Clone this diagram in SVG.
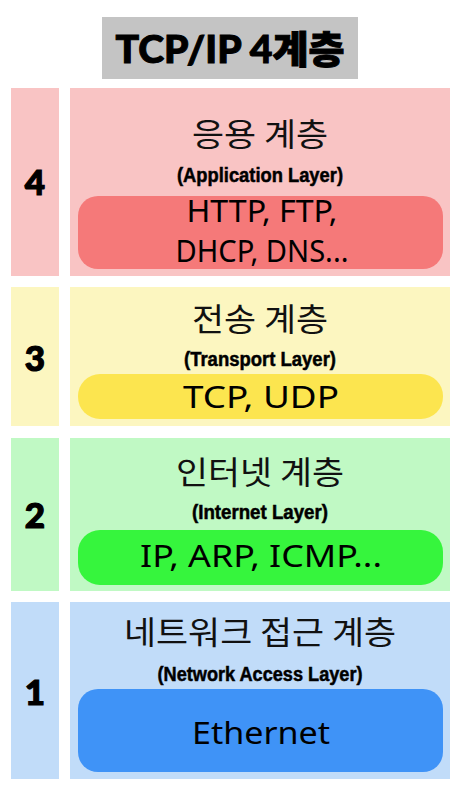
<svg xmlns="http://www.w3.org/2000/svg" width="461" height="793" viewBox="0 0 461 793">
<style>
.num{font-family:Lato,"Liberation Sans",sans-serif;font-weight:900;font-size:35px;fill:#000;stroke:#000;stroke-width:1.2;text-anchor:middle}
.ko{font-family:"Noto Sans CJK KR",sans-serif;font-size:32px;fill:#111;text-anchor:middle}
.en{font-family:"Liberation Sans",sans-serif;font-weight:bold;font-size:20px;fill:#000;stroke:#000;stroke-width:0.5;text-anchor:middle}
.pr{font-family:"Noto Sans","Liberation Sans",sans-serif;font-size:30px;fill:#000;text-anchor:middle}
</style>
<rect width="461" height="793" fill="#fff"/>
<g id="title">
<rect x="102" y="17" width="256" height="62" fill="#c4c4c4"/>
<text x="230" y="63" font-family="Lato,'Noto Sans CJK KR',sans-serif" font-weight="900" font-size="38" stroke="#000" stroke-width="1" text-anchor="middle" textLength="229" lengthAdjust="spacingAndGlyphs">TCP/IP 4계층</text>
</g>
<g id="layer4">
<rect x="11" y="88" width="48" height="188" fill="#f9c4c4"/>
<rect x="70" y="88" width="380" height="188" fill="#f9c4c4"/>
<rect x="78" y="196" width="365" height="73" rx="20" fill="#f57979"/>
<text class="num" x="35" y="195">4</text>
<text class="ko" x="260" y="146" textLength="136" lengthAdjust="spacingAndGlyphs">응용 계층</text>
<text class="en" x="260" y="182" textLength="166" lengthAdjust="spacingAndGlyphs">(Application Layer)</text>
<text class="pr" x="262" y="222" font-size="27" textLength="151" lengthAdjust="spacingAndGlyphs">HTTP, FTP,</text>
<text class="pr" x="262" y="262" font-size="27" textLength="173" lengthAdjust="spacingAndGlyphs">DHCP, DNS...</text>
</g>
<g id="layer3">
<rect x="11" y="287" width="48" height="139" fill="#fcf6c0"/>
<rect x="70" y="287" width="380" height="139" fill="#fcf6c0"/>
<rect x="78" y="374" width="365" height="45" rx="22" fill="#fce54f"/>
<text class="num" x="35" y="371">3</text>
<text class="ko" x="260" y="331" textLength="136" lengthAdjust="spacingAndGlyphs">전송 계층</text>
<text class="en" x="260" y="366" textLength="152" lengthAdjust="spacingAndGlyphs">(Transport Layer)</text>
<text class="pr" x="261" y="408" font-size="33" textLength="156" lengthAdjust="spacingAndGlyphs">TCP, UDP</text>
</g>
<g id="layer2">
<rect x="11" y="438" width="48" height="153" fill="#c0f9c4"/>
<rect x="70" y="438" width="380" height="153" fill="#c0f9c4"/>
<rect x="78" y="530" width="365" height="55" rx="22" fill="#36f53d"/>
<text class="num" x="35" y="528">2</text>
<text class="ko" x="260" y="484" textLength="168" lengthAdjust="spacingAndGlyphs">인터넷 계층</text>
<text class="en" x="260" y="519" textLength="136" lengthAdjust="spacingAndGlyphs">(Internet Layer)</text>
<text class="pr" x="261" y="567" font-size="33" textLength="242" lengthAdjust="spacingAndGlyphs">IP, ARP, ICMP...</text>
</g>
<g id="layer1">
<rect x="11" y="602" width="48" height="177" fill="#c1dcf9"/>
<rect x="70" y="602" width="380" height="177" fill="#c1dcf9"/>
<rect x="78" y="689" width="365" height="83" rx="20" fill="#3f93f7"/>
<text class="num" x="35" y="705">1</text>
<text class="ko" x="260" y="644" textLength="272" lengthAdjust="spacingAndGlyphs">네트워크 접근 계층</text>
<text class="en" x="260" y="681" textLength="205" lengthAdjust="spacingAndGlyphs">(Network Access Layer)</text>
<text class="pr" x="261" y="744" font-size="30" textLength="138" lengthAdjust="spacingAndGlyphs">Ethernet</text>
</g>
</svg>
